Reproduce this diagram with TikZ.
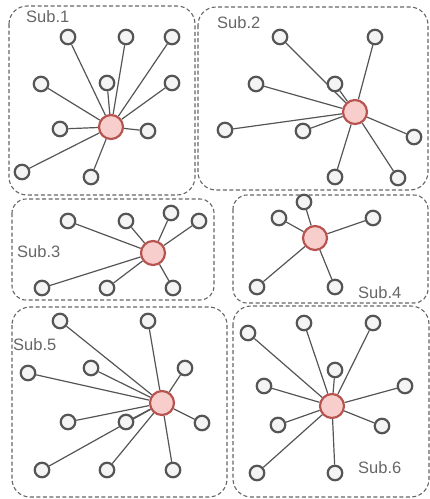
\documentclass[tikz,border=0pt]{standalone}
\usepackage{fontspec}
\setmainfont{Liberation Sans}
\usetikzlibrary{backgrounds}
\definecolor{leafdraw}{HTML}{555555}
\definecolor{leaffill}{HTML}{F4F4F4}
\definecolor{hubdraw}{HTML}{B85450}
\definecolor{hubfill}{HTML}{F8CECC}
\definecolor{linkcol}{HTML}{555555}
\definecolor{boxcol}{HTML}{666666}
\definecolor{labelcol}{HTML}{666666}
\begin{document}
\begin{tikzpicture}[x=1pt,y=-1pt,
  leaf/.style={circle,draw=leafdraw,fill=leaffill,line width=2.2pt,minimum size=14.5pt,inner sep=0pt},
  hub/.style={circle,draw=hubdraw,fill=hubfill,line width=2.2pt,minimum size=24pt,inner sep=0pt},
  link/.style={draw=linkcol,line width=1.2pt},
  subbox/.style={draw=boxcol,dash pattern=on 4pt off 2.5pt,line width=1.1pt,rounded corners=18pt},
  sublabel/.style={text=labelcol,font=\fontsize{16.5}{16.5}\selectfont,inner sep=0pt,anchor=west}]
\useasboundingbox (0,0) rectangle (430,499);
% boxes
\draw[subbox] (9,6) rectangle (195,195);
\draw[subbox] (198,7) rectangle (428,190);
\draw[subbox,rounded corners=14pt] (12,199) rectangle (214,300);
\draw[subbox,rounded corners=14pt] (233,195) rectangle (428,303);
\draw[subbox] (12,307) rectangle (227,497);
\draw[subbox] (233,306) rectangle (429,497);
% labels
\node[sublabel] (l1) at (26,17) {Sub.1};
\node[sublabel] (l2) at (217,23) {Sub.2};
\node[sublabel] (l3) at (17,252) {Sub.3};
\node[sublabel] (l4) at (358,293) {Sub.4};
\node[sublabel] (l5) at (13,345) {Sub.5};
\node[sublabel] (l6) at (358,468) {Sub.6};
% Sub.1
\node[hub] (s1c) at (111,127) {};
\foreach \p [count=\i] in {(68,37),(126,37),(172,37),(41,84),(107,83),(172,83),(60,129),(148,131),(22,172),(91,177)}
  \node[leaf] (s1n\i) at \p {};
% Sub.2
\node[hub] (s2c) at (355,112) {};
\foreach \p [count=\i] in {(280,37),(375,37),(256,84),(335,84),(225,130),(303,131),(414,137),(335,177),(398,178)}
  \node[leaf] (s2n\i) at \p {};
% Sub.3
\node[hub] (s3c) at (153,253) {};
\foreach \p [count=\i] in {(68,221),(126,221),(171,213),(199,221),(42,288),(107,288),(173,288)}
  \node[leaf] (s3n\i) at \p {};
% Sub.4
\node[hub] (s4c) at (315,238) {};
\foreach \p [count=\i] in {(304,202),(279,218),(373,218),(257,287),(335,287)}
  \node[leaf] (s4n\i) at \p {};
% Sub.5
\node[hub] (s5c) at (162,403) {};
\foreach \p [count=\i] in {(60,321),(148,321),(28,373),(91,368),(185,368),(68,422),(126,422),(202,423),(42,470),(107,470),(173,470)}
  \node[leaf] (s5n\i) at \p {};
% Sub.6
\node[hub] (s6c) at (332,406) {};
\foreach \p [count=\i] in {(248,333),(304,323),(373,323),(335,370),(264,386),(405,386),(278,425),(382,426),(257,473),(335,473)}
  \node[leaf] (s6n\i) at \p {};
% connectors
\begin{pgfonlayer}{background}
\foreach \i in {1,...,10} \draw[link] (s1c) -- (s1n\i);
\foreach \i in {1,...,9} \draw[link] (s2c) -- (s2n\i);
\foreach \i in {1,...,7} \draw[link] (s3c) -- (s3n\i);
\foreach \i in {1,...,5} \draw[link] (s4c) -- (s4n\i);
\foreach \i in {1,...,11} \draw[link] (s5c) -- (s5n\i);
\foreach \i in {1,...,10} \draw[link] (s6c) -- (s6n\i);
\end{pgfonlayer}
\end{tikzpicture}
\end{document}
